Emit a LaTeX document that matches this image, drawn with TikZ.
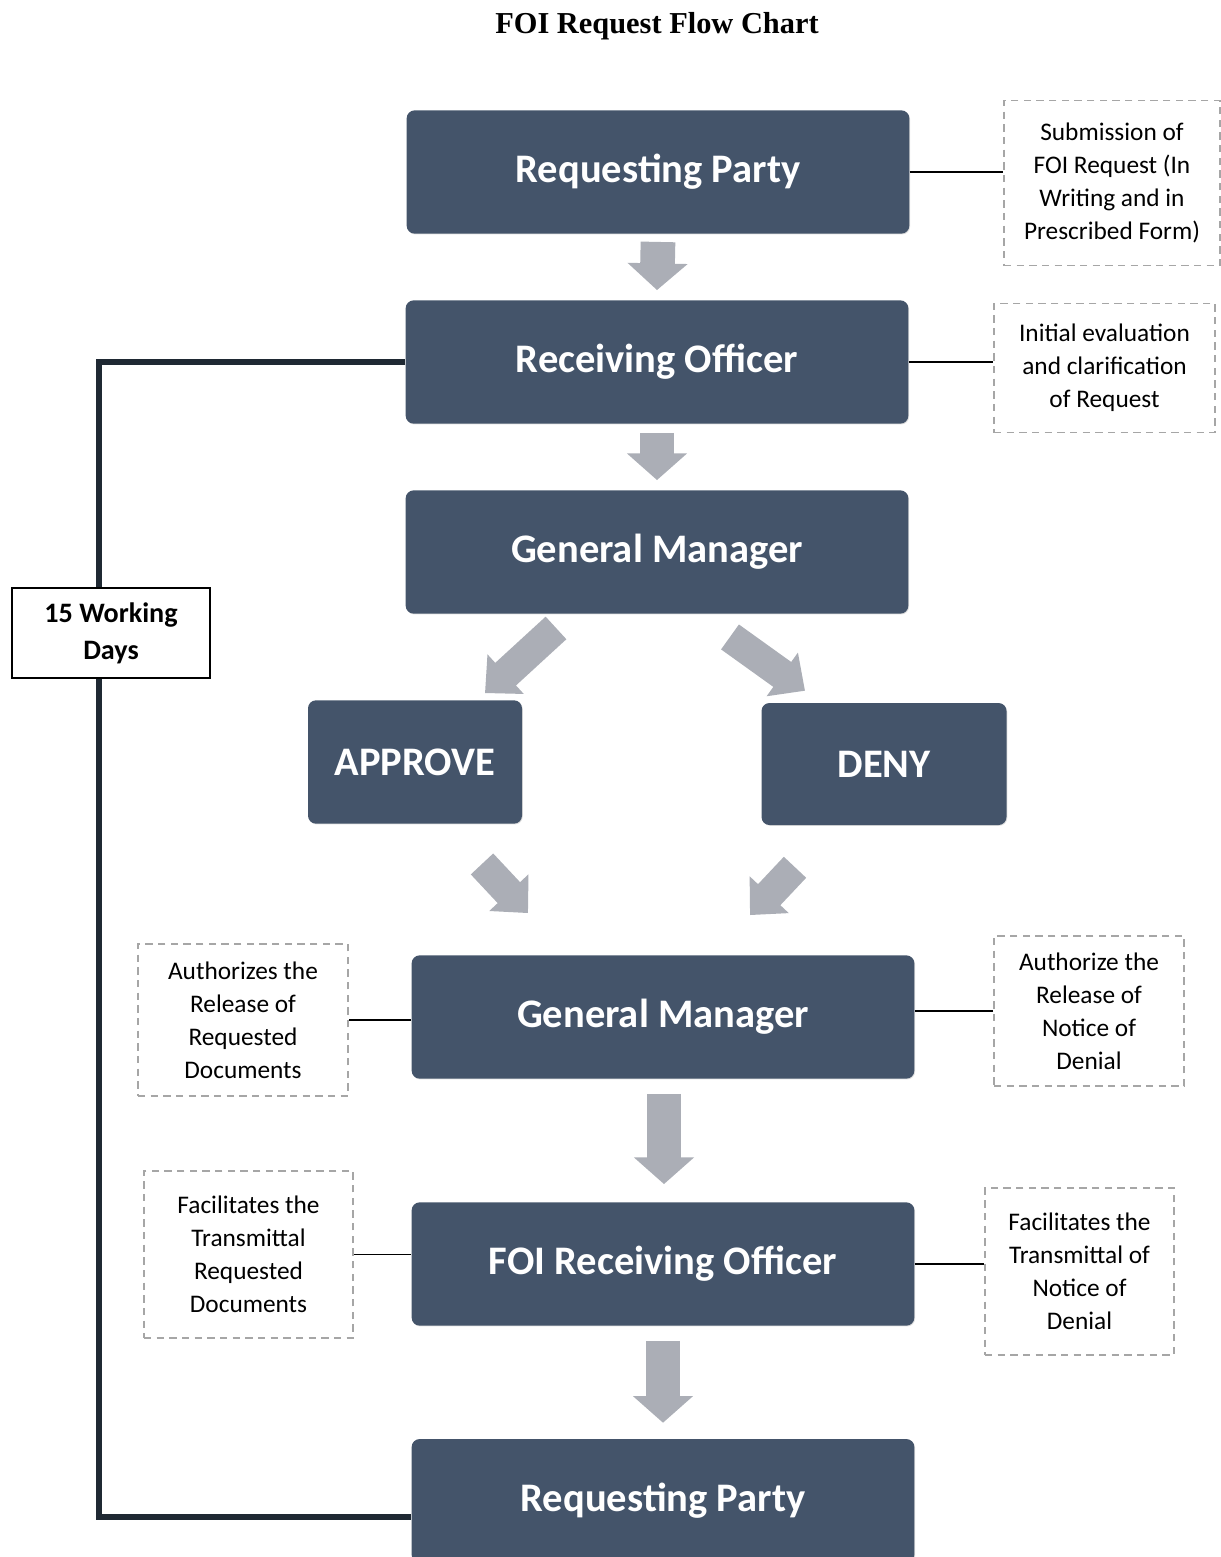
\documentclass[tikz,border=0pt]{standalone}
\usepackage{fontspec}
\setmainfont{Carlito}
\newfontfamily\titlefont{Liberation Serif}
\usetikzlibrary{arrows.meta,calc,shadows}
\definecolor{boxblue}{HTML}{44546A}
\definecolor{arrowgray}{HTML}{ABAEB6}
\definecolor{dashgray}{HTML}{A6A6A6}
\definecolor{linedark}{HTML}{1F2933}

\begin{document}
\begin{tikzpicture}[x=0.75pt,y=-0.75pt,
    mainbox/.style={fill=boxblue,rounded corners=6pt,text=white,inner sep=0pt,
      font=\bfseries\fontsize{30.4}{36}\selectfont,minimum width=377pt,minimum height=92.5pt,
      drop shadow={shadow xshift=0.6pt,shadow yshift=-0.6pt,opacity=0.25}},
    notebox/.style={draw=dashgray,dash pattern=on 5.5pt off 4pt,line width=1.3pt,
      align=center,inner sep=0pt,font=\fontsize{19}{24.8}\selectfont},
    daysbox/.style={draw=black,fill=white,line width=1.3pt,align=center,inner sep=0pt,
      font=\bfseries\fontsize{21.1}{27.8}\selectfont,minimum width=148.5pt,minimum height=67.5pt},
    tie/.style={draw=black,line width=1.1pt},
    bracket/.style={draw=linedark,line width=4.5pt},
    downarrow/.style={draw=arrowgray,line width=26pt,-{Triangle[width=44pt,length=20pt]}},
    slantarrow/.style={draw=arrowgray,line width=23pt,-{Triangle[width=39pt,length=21pt]}}]
  \useasboundingbox (0,0) rectangle (1221,1557);

  \node[font=\titlefont\bfseries\fontsize{22.8}{27}\selectfont] (title) at (657,26) {FOI Request Flow Chart};

  % main flow
  \node[mainbox] (rp1) at (658,172) {Requesting Party};
  \node[mainbox] (ro) at (657,362) {Receiving Officer};
  \node[mainbox] (gm1) at (657,552) {General Manager};
  \node[mainbox,minimum width=160.5pt] (approve) at (415,762) {APPROVE};
  \node[mainbox,minimum width=183.75pt,minimum height=91.5pt] (deny) at (884,764) {DENY};
  \node[mainbox] (gm2) at (663,1017) {General Manager};
  \node[mainbox] (foiro) at (663,1264) {FOI Receiving Officer};
  \node[mainbox,minimum height=93pt] (rp2) at (663,1501) {Requesting Party};

  % notes
  \node[notebox,minimum width=162pt,minimum height=123.75pt] (s1) at (1112,183)
    {Submission of\\FOI Request (In\\Writing and in\\Prescribed Form)};
  \node[notebox,minimum width=165.75pt,minimum height=96.75pt] (s2) at (1104.5,368)
    {Initial evaluation\\and clarification\\of Request};
  \node[notebox,minimum width=157.5pt,minimum height=114pt] (s3) at (243,1020)
    {Authorizes the\\Release of\\Requested\\Documents};
  \node[notebox,minimum width=142.5pt,minimum height=112.5pt] (s4) at (1089,1011)
    {Authorize the\\Release of\\Notice of\\Denial};
  \node[notebox,minimum width=156.75pt,minimum height=125.25pt] (s5) at (248.5,1254.5)
    {Facilitates the\\Transmittal\\Requested\\Documents};
  \node[notebox,minimum width=141.75pt,minimum height=125.25pt] (s6) at (1079.5,1271.5)
    {Facilitates the\\Transmittal of\\Notice of\\Denial};

  \draw[tie] (rp1.east) -- (rp1.east -| s1.west);
  \draw[tie] (ro.east) -- (ro.east -| s2.west);
  \draw[tie] (s3.east) -- (s3.east -| gm2.west);
  \draw[tie] (s4.west) -- (s4.west -| gm2.east);
  \draw[tie] (s5.east) -- (s5.east -| foiro.west);
  \draw[tie] (foiro.east) -- (foiro.east -| s6.west);

  % block arrows
  \draw[downarrow] ($(rp1.south)+(0,8)$) -- ($(ro.north)+(0,-10)$);
  \draw[downarrow] ($(ro.south)+(0,9)$) -- ($(gm1.north)+(0,-10)$);
  \draw[slantarrow] ($(gm1.south)+(-101,14)$) -- ($(approve.north)+(70,-7)$);
  \draw[slantarrow] ($(gm1.south)+(73,23)$) -- ($(deny.north)+(-79,-12)$);
  \draw[slantarrow] ($(approve.south)+(67,40)$) -- ($(gm2.north)+(-135,-42)$);
  \draw[slantarrow] ($(deny.south)+(-89,42)$) -- ($(gm2.north)+(87,-40)$);
  \draw[downarrow] ($(gm2.south)+(1,15)$) -- ($(foiro.north)+(1,-18)$);
  \draw[downarrow] ($(foiro.south)+(0,15)$) -- ($(rp2.north)+(0,-16)$);

  % time frame
  \draw[bracket] (ro.west) -- ++(-306,0) |- ($(rp2.west)+(0,16)$);
  \node[daysbox] (days) at (111,633) {15 Working\\Days};
\end{tikzpicture}
\end{document}
